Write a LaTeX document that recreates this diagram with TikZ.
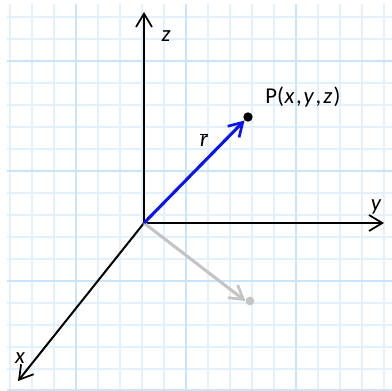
\documentclass[tikz,border=0pt]{standalone}
\usepackage{fontspec}
\setmainfont{Carlito}
\usepackage{tikz}
\usetikzlibrary{arrows.meta,positioning}
\definecolor{gridminor}{HTML}{E3F1FD}
\definecolor{gridmajor}{HTML}{C9E5FB}
\definecolor{vecblue}{HTML}{0A14F0}
\definecolor{projgray}{HTML}{C4C4C4}
\tikzset{
    axis/.style={draw=black, line width=1.5pt, -{Straight Barb[length=10pt,width=12pt,line width=1.3pt]}},
    vec/.style={line width=2.3pt, -{Straight Barb[length=10pt,width=12pt,line width=2pt]}},
    lbl/.style={font=\fontsize{17}{20}\selectfont\itshape, inner sep=1pt},
    dot/.style={circle, inner sep=0pt, minimum size=7pt}
}
\begin{document}
\begin{tikzpicture}[x=0.75pt, y=-0.75pt]
    \useasboundingbox (0,0) rectangle (392,391);
    \fill[white] (0,0) rectangle (392,391);

    % Graph paper
    \begin{scope}
        \clip (7,5) rectangle (392,391);
        \foreach \i in {0,...,17} {
            \pgfmathsetmacro{\gx}{10 + \i * 22}
            \draw[gridminor, line width=0.8pt] (\gx,0) -- (\gx,400);
        }
        \foreach \i in {0,...,17} {
            \pgfmathsetmacro{\gy}{17 + \i * 22}
            \draw[gridminor, line width=0.8pt] (0,\gy) -- (400,\gy);
        }
        \foreach \gx in {76,186,296} {
            \draw[gridmajor, line width=1.6pt] (\gx,0) -- (\gx,400);
        }
        \foreach \gy in {61,171,281,390} {
            \draw[gridmajor, line width=1.6pt] (0,\gy) -- (400,\gy);
        }
    \end{scope}

    % Axes
    \coordinate (O) at (144,223);
    \coordinate (ztip) at (144,12);
    \coordinate (ytip) at (384,223);
    \coordinate (xtip) at (18,381);
    \draw[axis] (O) -- (ztip);
    \draw[axis] (O) -- (ytip);
    \draw[axis] (O) -- (xtip);
    \node[lbl] (zlbl) at (166,36) {z};
    \node[lbl] (ylbl) at (376,207) {y};
    \node[lbl] (xlbl) at (20,358) {x};

    % Projection on the xy-plane
    \node[dot, fill=projgray, minimum size=6.5pt] (Q) at (250,301) {};
    \draw[vec, projgray] (O) -- (Q.west);

    % Position vector
    \node[dot, fill=black] (P) at (248,117) {};
    \draw[vec, vecblue] (O) -- (P.south west);
    \node[font=\fontsize{17}{20}\selectfont, inner sep=1pt] (Plbl) at (303,97)
        {P(\kern0.5pt\textit{x}\kern1pt,\kern1.5pt\textit{y}\kern1pt,\kern1.5pt\textit{z}\kern1pt)};
    \node[lbl] (rlbl) at (204,140) {$\overline{\hbox{\itshape r}}$};
\end{tikzpicture}
\end{document}
